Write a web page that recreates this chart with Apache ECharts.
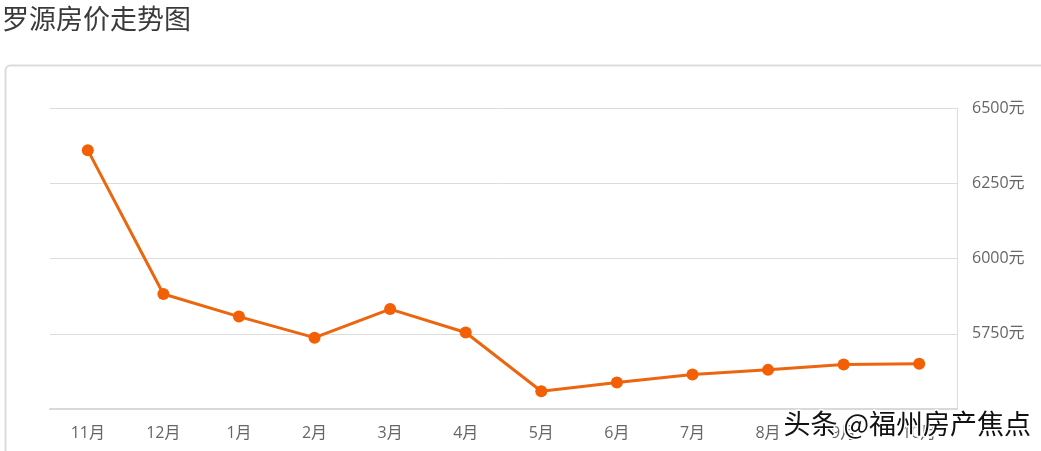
<!DOCTYPE html>
<html>
<head>
<meta charset="utf-8">
<script src="https://cdn.jsdelivr.net/npm/echarts@6/dist/echarts.min.js"></script>
<style>
html,body{margin:0;padding:0;background:#fff;}
#main{width:1041px;height:451px;}
</style>
</head>
<body>
<div id="main"></div>
<script>
const title = '罗源房价走势图';
const watermark = '头条 @福州房产焦点';
const months = ['11月','12月','1月','2月','3月','4月','5月','6月','7月','8月','9月','10月'];
const prices = [6360, 5882, 5807, 5737, 5832, 5754, 5559, 5588, 5615, 5630, 5648, 5650];
const yMin = 5500, yMax = 6500, yStep = 250;

const chart = echarts.init(document.getElementById('main'));
const font = '"Noto Sans CJK SC", "Open Sans", sans-serif';
const labelFont = '"Open Sans", "Noto Sans CJK SC", sans-serif';
chart.setOption({
  animation: false,
  backgroundColor: '#fff',
  textStyle: { fontFamily: font },
  title: {
    text: title, left: 2, top: 5, padding: 0,
    textStyle: { fontSize: 27, fontWeight: 'normal', color: '#3a3a3a', fontFamily: font }
  },
  graphic: [
    { type: 'rect', left: 3, top: 63, z: -10,
      shape: { width: 1060, height: 420, r: 5 },
      style: { fill: 'none', stroke: '#dcdcdc', lineWidth: 2 } },
    { type: 'text', left: 782, top: 409, z: 100,
      style: { text: watermark, fontSize: 27, fill: '#111', stroke: '#fff', lineWidth: 3, fontFamily: font } }
  ],
  grid: { left: 50, right: 84, top: 108, bottom: 42 },
  xAxis: {
    type: 'category', data: months, boundaryGap: true,
    axisLine: { lineStyle: { color: '#d9d9d9', width: 2 } },
    axisTick: { alignWithLabel: true, length: 5, lineStyle: { color: '#ddd' } },
    axisLabel: { color: '#666', fontSize: 16, margin: 16, fontFamily: labelFont },
    splitLine: { show: false }
  },
  yAxis: {
    type: 'value', position: 'right', min: yMin, max: yMax, interval: yStep,
    axisLine: { show: true, lineStyle: { color: '#ddd', width: 1 } },
    axisTick: { show: false },
    axisLabel: {
      color: '#666', fontSize: 16, margin: 15, fontFamily: labelFont,
      formatter: v => (v === yMin ? '' : v + '元')
    },
    splitLine: { lineStyle: { color: '#dcdcdc', width: 1 } }
  },
  series: [{
    type: 'line', data: prices,
    symbol: 'circle', symbolSize: 12,
    lineStyle: { color: '#ec650f', width: 3 },
    itemStyle: { color: '#f25f05' }
  }]
});
</script>
</body>
</html>
